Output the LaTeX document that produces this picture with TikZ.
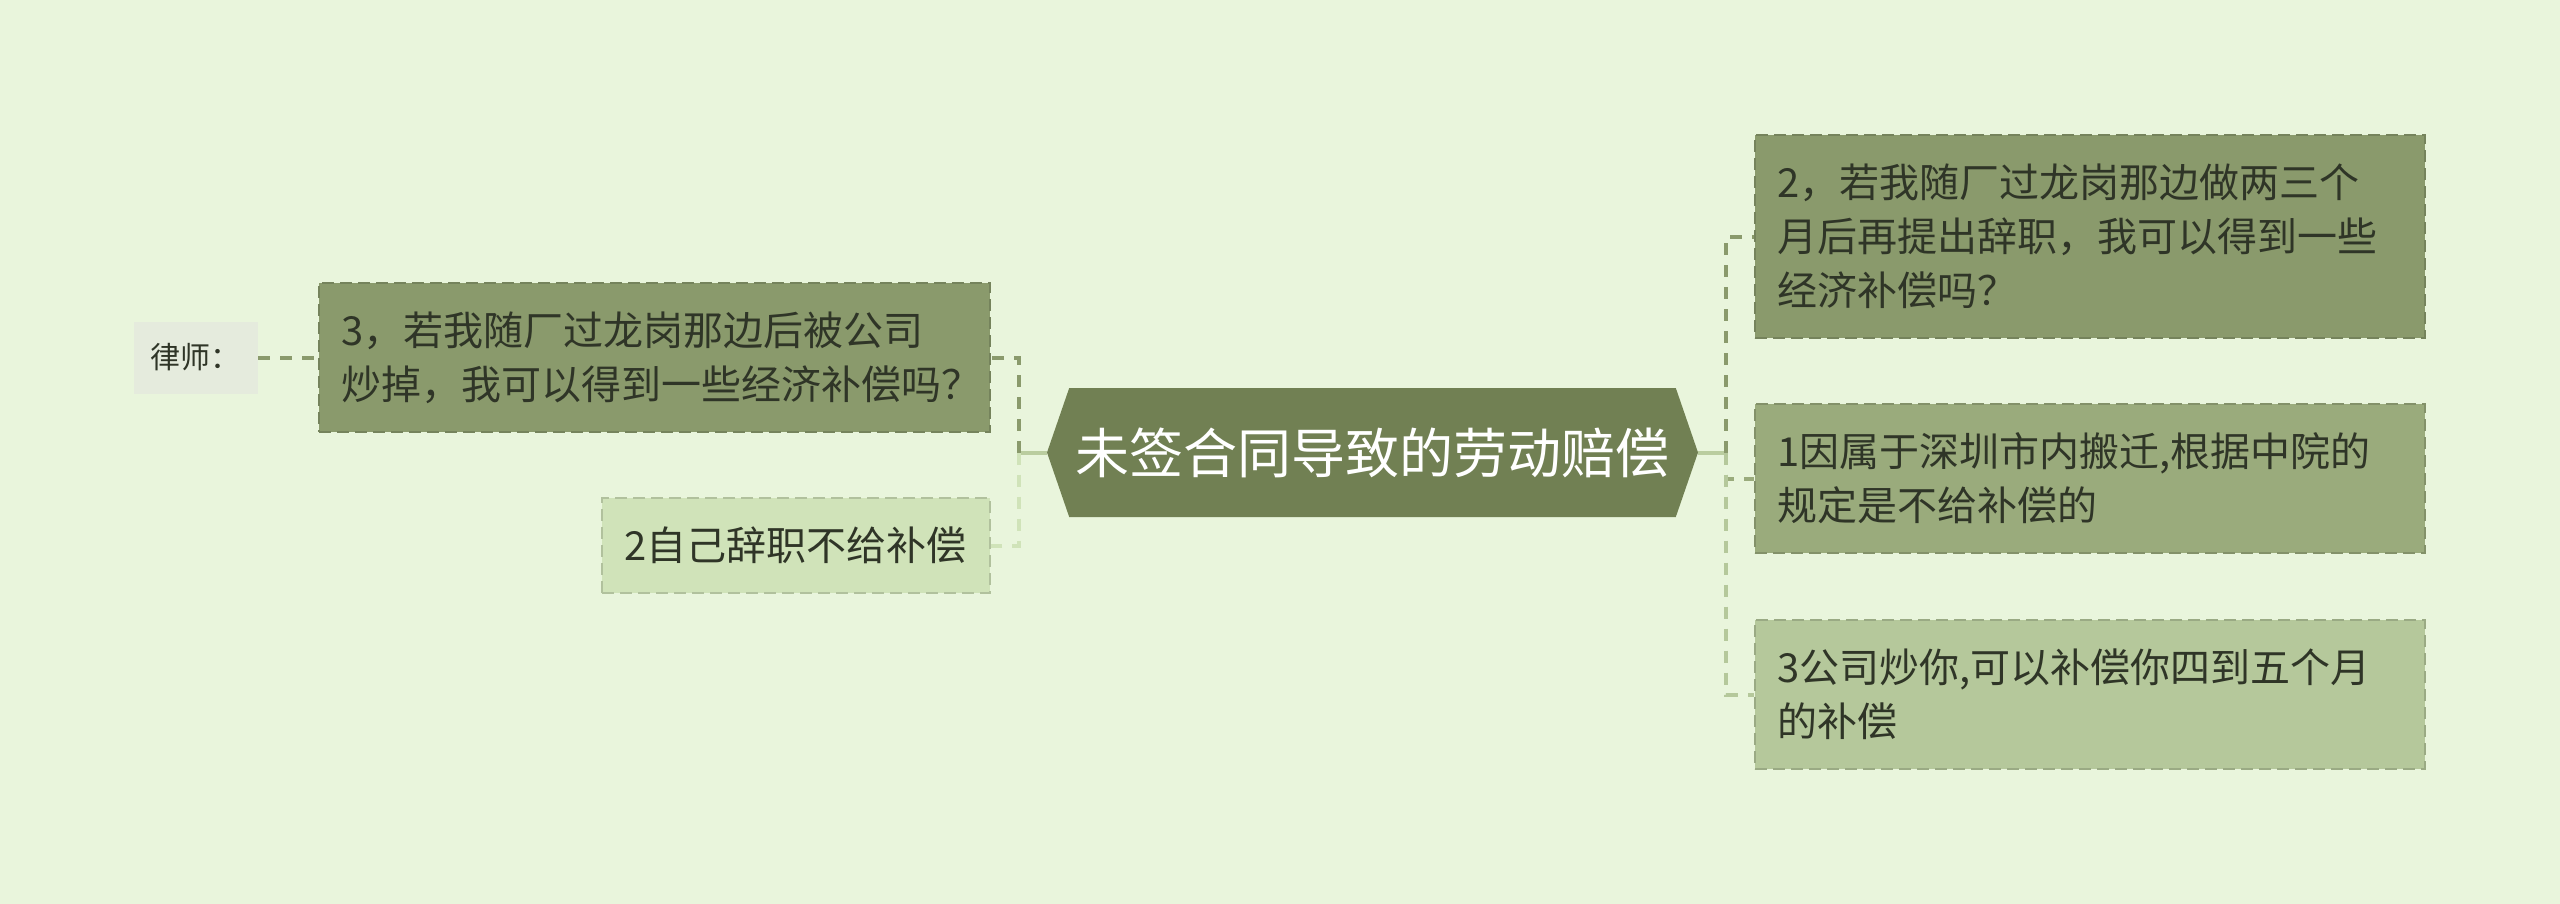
\documentclass[tikz,border=0pt]{standalone}
\usepackage{fontspec}
\newfontfamily\cjk{Noto Sans CJK SC}
\usetikzlibrary{positioning}
\usetikzlibrary{shapes.symbols}
\definecolor{bgc}{HTML}{E9F5DC}
\definecolor{rootc}{HTML}{718053}
\definecolor{darkc}{HTML}{8A9A6C}
\definecolor{midc}{HTML}{9AAB7C}
\definecolor{paleC}{HTML}{B5C89B}
\definecolor{lightc}{HTML}{D0E3B9}
\definecolor{greyc}{HTML}{E5EBDD}
\definecolor{stemc}{HTML}{BACD9F}
\definecolor{textc}{HTML}{2F3527}

\begin{document}
\begin{tikzpicture}[x=0.5pt, y=-0.5pt]
 \tikzstyle{topic}=[shape=signal, signal to=west and east, signal pointer angle=142, fill=rootc, text=white, minimum width=325.5pt, minimum height=64.5pt, inner sep=0pt, font=\fontsize{27}{32}\selectfont\cjk]
 \tikzstyle{sub}=[rectangle, dash pattern=on 6pt off 3pt, line width=0.75pt, inner xsep=11pt, inner ysep=0pt, align=left, text=textc, font=\fontsize{20}{27}\selectfont\cjk]
 \tikzstyle{link}=[draw, dash pattern=on 6pt off 5pt, line width=2pt]

 \fill[bgc] (0,0) rectangle (2560,904);
 \useasboundingbox (0,0) rectangle (2560,904);

 % centre topic
 \node[topic] (root) at (1372.5, 452.5) {未签合同导致的劳动赔偿};
 \coordinate (rj) at (1726, 452.5);
 \coordinate (lj) at (1019, 452.5);

 % right branch
 \node[sub, fill=darkc, draw=darkc!85!black, text width=313pt, minimum height=101.5pt] (q2) at (2090, 236.5)
   {2，若我随厂过龙岗那边做两三个\\月后再提出辞职，我可以得到一些\\经济补偿吗？};
 \node[sub, fill=midc, draw=midc!85!black, text width=313pt, minimum height=74.5pt] (a1) at (2090, 478.5)
   {1因属于深圳市内搬迁,根据中院的\\规定是不给补偿的};
 \node[sub, fill=paleC, draw=paleC!85!black, text width=313pt, minimum height=74.5pt] (a3) at (2090, 694.5)
   {3公司炒你,可以补偿你四到五个月\\的补偿};

 % left branch
 \node[sub, fill=darkc, draw=darkc!85!black, text width=313.5pt, minimum height=74.5pt] (q3) at (654.5, 357.5)
   {3，若我随厂过龙岗那边后被公司\\炒掉，我可以得到一些经济补偿吗？};
 \node[sub, fill=lightc, draw=lightc!85!black, text width=172pt, minimum height=47.5pt] (own) at (796, 545.5)
   {2自己辞职不给补偿};
 \node[rectangle, fill=greyc, text=textc, minimum width=62pt, minimum height=36pt, inner sep=0pt,
   font=\fontsize{15}{18}\selectfont\cjk, left=30pt of q3] (lawyer) {律师：};

 % connectors
 \draw[stemc, line width=2pt] (root.east) -- (rj);
 \draw[stemc, line width=2pt] (root.west) -- (lj);
 \path[link, darkc] (rj) |- (q2.west);
 \path[link, midc] (rj) |- (a1.west);
 \path[link, paleC] (rj) |- (a3.west);
 \path[link, darkc] (lj) |- (q3.east);
 \path[link, lightc] (lj) |- (own.east);
 \path[link, darkc] (lawyer.east) -- (q3.west);
\end{tikzpicture}
\end{document}
